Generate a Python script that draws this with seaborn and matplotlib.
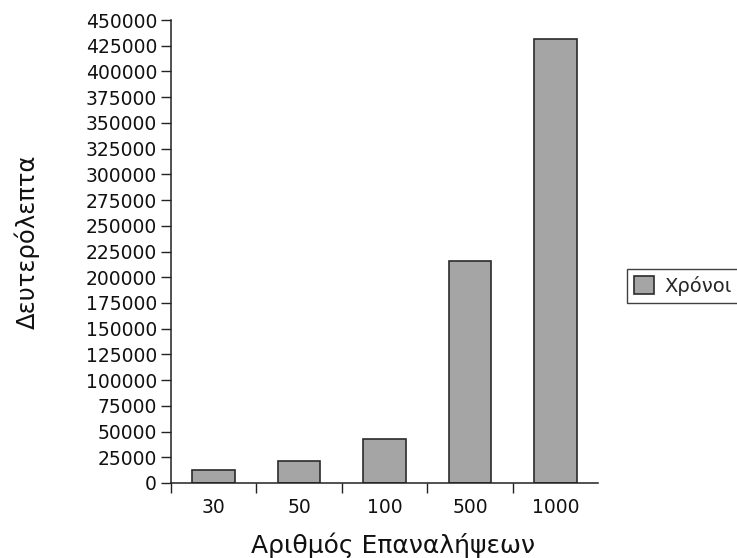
import matplotlib
matplotlib.use("Agg")
import matplotlib.pyplot as plt
import seaborn as sns
import pandas as pd
import numpy as np

# Execution time (seconds) per number of iterations
iterations = ["30", "50", "100", "500", "1000"]
seconds = [12960, 21600, 43200, 216000, 432000]
series_name = "Χρόνοι"
y_ticks = list(range(0, 450001, 25000))

df = pd.DataFrame({"iterations": iterations, "seconds": seconds, "series": series_name})

sns.set_theme(style="white")
plt.rcParams["font.family"] = ["DejaVu Sans"]

fig = plt.figure(figsize=(7.37, 5.58), dpi=100)
ax = fig.add_axes([171 / 737, 1 - 483 / 558, (598 - 171) / 737, (483 - 20) / 558])

sns.barplot(data=df, x="iterations", y="seconds", hue="series",
            palette=["#a5a5a5"], width=0.5, edgecolor="#2b2b2b",
            linewidth=1.2, ax=ax, legend=True)

ax.set_xlim(-0.5, 4.5)
ax.set_ylim(0, 450000)
ax.set_yticks(y_ticks)
ax.set_yticklabels([str(v) for v in y_ticks])

# category separators as ticks below the axis
ax.set_xticks(np.arange(-0.5, 4.0, 1.0), minor=True)
ax.tick_params(axis="x", which="major", length=0, pad=11, labelsize=13.5, colors="#111111")
ax.tick_params(axis="x", which="minor", length=7, width=1.0, direction="out", color="#222222", bottom=True)
ax.tick_params(axis="y", length=7, width=1.0, direction="out", color="#222222", left=True,
               labelsize=13.5, labelcolor="#111111", pad=3)

for s in ["top", "right"]:
    ax.spines[s].set_visible(False)
for s in ["left", "bottom"]:
    ax.spines[s].set_color("#222222")
    ax.spines[s].set_linewidth(1.1)

ax.set_xlabel("Αριθμός Επαναλήψεων", fontsize=18, color="#111111")
ax.set_ylabel("Δευτερόλεπτα", fontsize=17.5, color="#111111")
ax.yaxis.set_label_coords(-0.307, 0.52)
ax.xaxis.set_label_coords(0.52, -0.107)

leg = ax.legend(loc="upper left", bbox_to_anchor=(627 / 737, 1 - 269 / 558),
                bbox_transform=fig.transFigure, frameon=True, fancybox=False,
                fontsize=14, handlelength=1.05, handleheight=1.05, handletextpad=0.5,
                borderpad=0.35, borderaxespad=0)
leg.get_frame().set_edgecolor("#111111")
leg.get_frame().set_linewidth(1.0)

fig.savefig("out.png", dpi=100)
